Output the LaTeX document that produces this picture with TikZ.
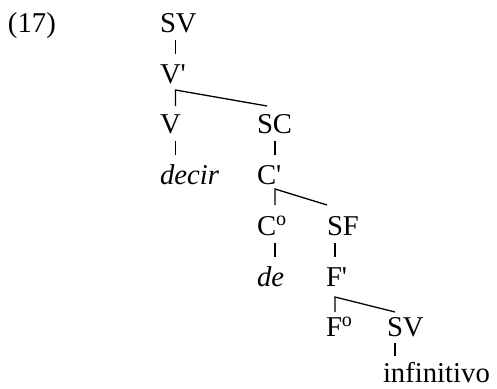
\documentclass[tikz,border=0pt]{standalone}
\usepackage{fontspec}
\setmainfont{Liberation Serif}
\usetikzlibrary{calc}

\tikzset{
  lbl/.style={anchor=base west, inner sep=0pt, outer sep=0pt, font=\fontsize{28.7}{34}\selectfont},
  branch/.style={line width=1.3pt}
}

\begin{document}
\begin{tikzpicture}[x=1pt,y=1pt,yscale=-1,xscale=1]
\useasboundingbox (0,0) rectangle (497,388);

% columns of the ticks
\coordinate (c1) at (175.5,0);
\coordinate (c2) at (275,0);
\coordinate (c3) at (335,0);
\coordinate (c4) at (395,0);

% Text Node
\node[lbl] (ex) at (8,32) {(17)};
% Text Node
\node[lbl] (sv1) at (160,32) {SV};
\node[lbl] (vbar) at (160,83) {V\textquotesingle};
\node[lbl] (v) at (160,133) {V};
\node[lbl] (sc) at (257,133) {SC};
\node[lbl] (decir) at (160,184) {\textit{decir}};
\node[lbl] (cbar) at (257,184) {C\textquotesingle};
\node[lbl] (czero) at (257,235) {C\textsuperscript{o}};
\node[lbl] (sf) at (327,235) {SF};
\node[lbl] (de) at (257,286) {\textit{de}};
\node[lbl] (fbar) at (326,286) {F\textquotesingle};
\node[lbl] (fzero) at (326,336) {F\textsuperscript{o}};
\node[lbl] (sv2) at (387,336) {SV};
\node[lbl] (inf) at (383,382) {infinitivo};

%Straight Lines
\draw[branch] ($(sv1.base -| c1)+(0,8)$) -- ($(vbar.base -| c1)+(0,-29)$);
\draw[branch] ($(v.base -| c1)+(0,8)$) -- ($(decir.base -| c1)+(0,-29)$);
\draw[branch] ($(sc.base -| c2)+(0,8)$) -- ($(cbar.base -| c2)+(0,-29)$);
\draw[branch] ($(czero.base -| c2)+(0,8)$) -- ($(de.base -| c2)+(0,-29)$);
\draw[branch] ($(sf.base -| c3)+(0,8)$) -- ($(fbar.base -| c3)+(0,-29)$);
\draw[branch] ($(sv2.base -| c4)+(0,7)$) -- ($(inf.base -| c4)+(0,-26)$);

%Straight Lines
\coordinate (vbr) at ($(vbar.base -| c1)+(0,7)$);
\draw[branch] ($(v.base -| c1)+(0,-27)$) -- (vbr) -- ($(sc.base west)+(10,-27)$);
\coordinate (cbr) at ($(cbar.base -| c2)+(0,5)$);
\draw[branch] ($(czero.base -| c2)+(0,-30)$) -- (cbr) -- ($(sf.base west)+(0,-30)$);
\coordinate (fbr) at ($(fbar.base -| c3)+(0,11)$);
\draw[branch] ($(fzero.base -| c3)+(0,-24)$) -- (fbr) -- ($(sv2.base west)+(8,-24)$);

\end{tikzpicture}
\end{document}
